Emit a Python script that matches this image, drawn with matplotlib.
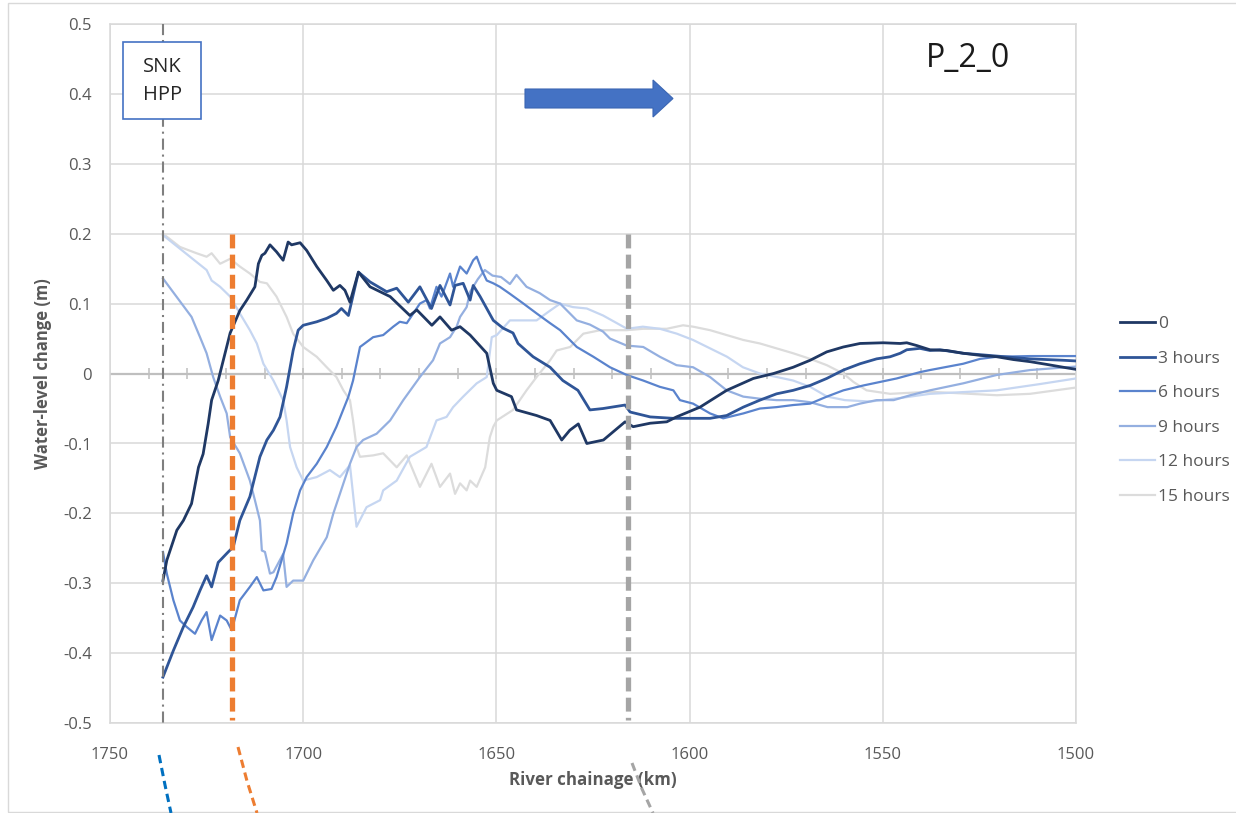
import numpy as np
import matplotlib
matplotlib.use("Agg")
import matplotlib.pyplot as plt
from matplotlib.patches import Rectangle, Polygon
from matplotlib.lines import Line2D

plt.rcParams['font.family'] = ['Open Sans', 'DejaVu Sans']
plt.rcParams['axes.unicode_minus'] = False
plt.rcParams['lines.scale_dashes'] = False

# ---------------- data ----------------
series_labels = ["0", "3 hours", "6 hours", "9 hours", "12 hours", "15 hours"]
series_colors = ["#1f3864", "#2f5597", "#5a83cd", "#94afe0", "#c6d6f1", "#dcdcdc"]

km_0 = [1736.3, 1735.3, 1732.7, 1731.0, 1728.9, 1727.1, 1725.9, 1724.6, 1723.7, 1722.0,
        1718.9, 1716.4, 1714.6, 1712.5, 1711.6, 1710.7, 1709.9, 1708.6, 1706.9, 1705.2,
        1703.9, 1703.0, 1700.8, 1699.1, 1696.5, 1693.9, 1692.2, 1690.5, 1689.2, 1687.9,
        1685.7, 1682.7, 1677.5, 1672.4, 1670.6, 1666.7, 1664.6, 1661.6, 1659.4, 1656.8,
        1652.5, 1650.8, 1649.9, 1646.1, 1644.8, 1639.6, 1636.1, 1633.1, 1631.0, 1628.8,
        1626.6, 1622.3, 1616.7, 1614.6, 1610.2, 1605.9, 1603.4, 1597.3, 1590.4, 1583.5,
        1578.3, 1573.2, 1568.8, 1564.5, 1560.2, 1555.9, 1549.9, 1545.5, 1543.8, 1541.2,
        1537.8, 1533.5, 1529.2, 1524.8, 1520.5, 1516.2, 1511.9, 1507.5, 1503.3, 1500.0]
wl_0 = [-0.296, -0.267, -0.224, -0.210, -0.186, -0.134, -0.115, -0.072, -0.038, -0.010,
        0.058, 0.090, 0.105, 0.124, 0.157, 0.169, 0.172, 0.184, 0.174, 0.162,
        0.188, 0.184, 0.187, 0.176, 0.153, 0.133, 0.119, 0.126, 0.119, 0.102,
        0.145, 0.124, 0.110, 0.083, 0.091, 0.069, 0.081, 0.062, 0.067, 0.055,
        0.029, -0.014, -0.024, -0.033, -0.052, -0.060, -0.067, -0.095, -0.081, -0.072,
        -0.100, -0.095, -0.069, -0.076, -0.071, -0.069, -0.062, -0.048, -0.024, -0.007,
        0.000, 0.009, 0.019, 0.031, 0.038, 0.043, 0.044, 0.043, 0.044, 0.040,
        0.034, 0.033, 0.029, 0.026, 0.024, 0.020, 0.017, 0.013, 0.009, 0.006]

km_3 = [1736.3, 1733.6, 1731.0, 1728.5, 1726.7, 1725.0, 1723.7, 1722.0, 1719.4, 1718.1,
        1716.4, 1713.8, 1711.2, 1709.4, 1707.7, 1706.0, 1704.3, 1702.6, 1701.3, 1700.0,
        1696.5, 1693.9, 1691.4, 1690.1, 1688.3, 1685.7, 1682.7, 1678.4, 1675.8, 1672.8,
        1669.8, 1666.8, 1664.6, 1662.0, 1660.7, 1658.6, 1656.8, 1656.0, 1654.2, 1650.8,
        1648.3, 1645.7, 1644.4, 1640.5, 1636.1, 1632.8, 1628.9, 1625.8, 1622.4, 1616.7,
        1615.4, 1610.2, 1604.3, 1600.8, 1594.7, 1590.4, 1586.1, 1581.8, 1577.5, 1573.2,
        1568.8, 1564.5, 1560.2, 1555.9, 1551.6, 1548.1, 1545.5, 1543.8, 1540.4, 1537.8,
        1535.2, 1529.2, 1524.8, 1520.5, 1511.9, 1503.3, 1500.0]
wl_3 = [-0.434, -0.396, -0.362, -0.334, -0.310, -0.289, -0.305, -0.270, -0.255, -0.248,
        -0.210, -0.176, -0.119, -0.095, -0.081, -0.062, -0.019, 0.033, 0.062, 0.069,
        0.074, 0.079, 0.086, 0.093, 0.083, 0.145, 0.131, 0.117, 0.122, 0.102,
        0.124, 0.093, 0.126, 0.098, 0.126, 0.129, 0.105, 0.126, 0.110, 0.076,
        0.065, 0.058, 0.043, 0.024, 0.009, -0.010, -0.024, -0.052, -0.050, -0.045,
        -0.055, -0.062, -0.064, -0.064, -0.064, -0.060, -0.048, -0.038, -0.029, -0.024,
        -0.017, -0.007, 0.005, 0.014, 0.021, 0.024, 0.029, 0.034, 0.036, 0.033,
        0.034, 0.029, 0.027, 0.025, 0.021, 0.019, 0.018]

km_6 = [1736.3, 1735.3, 1733.6, 1731.9, 1730.2, 1728.0, 1726.3, 1725.0, 1723.7, 1721.5,
        1719.8, 1718.5, 1716.4, 1713.8, 1712.0, 1710.3, 1708.2, 1706.9, 1705.6, 1704.3,
        1702.6, 1700.8, 1699.1, 1696.5, 1693.9, 1691.4, 1688.3, 1687.1, 1685.3, 1681.9,
        1679.3, 1676.7, 1675.0, 1673.2, 1671.5, 1669.8, 1668.1, 1667.2, 1665.5, 1664.2,
        1662.0, 1661.2, 1659.4, 1657.7, 1656.0, 1655.1, 1653.8, 1652.5, 1650.8, 1649.1,
        1646.5, 1643.0, 1639.6, 1636.1, 1633.5, 1629.2, 1624.9, 1620.6, 1616.3, 1612.0,
        1607.7, 1604.2, 1602.5, 1599.1, 1594.7, 1591.3, 1586.1, 1581.8, 1577.5, 1573.2,
        1568.8, 1564.5, 1560.2, 1555.0, 1546.4, 1540.4, 1537.8, 1529.2, 1524.8, 1520.5,
        1511.9, 1500.0]
wl_6 = [-0.255, -0.286, -0.324, -0.353, -0.362, -0.372, -0.353, -0.341, -0.381, -0.346,
        -0.353, -0.367, -0.324, -0.305, -0.291, -0.310, -0.308, -0.291, -0.267, -0.243,
        -0.200, -0.167, -0.148, -0.129, -0.105, -0.076, -0.033, -0.010, 0.038, 0.052,
        0.055, 0.067, 0.074, 0.072, 0.086, 0.100, 0.105, 0.093, 0.124, 0.110,
        0.143, 0.124, 0.153, 0.143, 0.162, 0.167, 0.148, 0.133, 0.129, 0.124,
        0.114, 0.100, 0.086, 0.072, 0.062, 0.038, 0.024, 0.009, -0.002, -0.010,
        -0.019, -0.024, -0.038, -0.043, -0.057, -0.064, -0.057, -0.050, -0.048, -0.045,
        -0.043, -0.033, -0.024, -0.017, -0.007, 0.002, 0.005, 0.014, 0.021, 0.024,
        0.025, 0.025]

km_9 = [1736.3, 1728.9, 1726.7, 1725.0, 1723.3, 1721.5, 1719.8, 1718.9, 1716.4, 1713.8,
        1712.5, 1711.2, 1710.7, 1709.9, 1708.6, 1707.7, 1705.2, 1704.3, 1702.6, 1700.0,
        1697.4, 1693.9, 1692.2, 1690.5, 1687.9, 1686.2, 1684.5, 1681.0, 1677.5, 1674.1,
        1669.8, 1666.4, 1664.6, 1662.0, 1660.3, 1659.4, 1657.7, 1656.8, 1654.8, 1653.0,
        1651.0, 1648.8, 1646.5, 1644.8, 1642.2, 1638.8, 1636.1, 1633.5, 1629.2, 1625.8,
        1622.4, 1620.6, 1616.3, 1612.0, 1607.7, 1603.4, 1599.1, 1594.7, 1590.4, 1586.1,
        1581.8, 1577.5, 1573.2, 1568.8, 1564.3, 1559.2, 1555.9, 1551.6, 1547.2, 1542.9,
        1537.8, 1529.2, 1520.5, 1511.9, 1500.0]
wl_9 = [0.136, 0.081, 0.052, 0.029, -0.005, -0.033, -0.057, -0.091, -0.114, -0.153,
        -0.181, -0.210, -0.253, -0.255, -0.286, -0.284, -0.258, -0.305, -0.296, -0.296,
        -0.267, -0.234, -0.200, -0.172, -0.129, -0.105, -0.095, -0.086, -0.067, -0.038,
        -0.005, 0.019, 0.043, 0.052, 0.067, 0.081, 0.095, 0.117, 0.135, 0.148,
        0.140, 0.138, 0.128, 0.141, 0.124, 0.115, 0.105, 0.100, 0.076, 0.070,
        0.060, 0.050, 0.040, 0.038, 0.024, 0.012, 0.009, -0.005, -0.024, -0.033,
        -0.036, -0.038, -0.038, -0.041, -0.048, -0.048, -0.043, -0.038, -0.038, -0.031,
        -0.024, -0.014, -0.002, 0.005, 0.010]

km_12 = [1736.3, 1733.6, 1729.3, 1725.0, 1723.7, 1721.5, 1718.9, 1716.4, 1713.8, 1712.0,
         1710.3, 1707.7, 1705.2, 1704.3, 1703.4, 1701.7, 1700.0, 1696.5, 1693.1, 1690.5,
         1687.9, 1686.2, 1683.6, 1680.1, 1679.3, 1675.8, 1672.4, 1668.1, 1665.5, 1662.9,
         1661.2, 1658.6, 1655.1, 1652.5, 1651.2, 1649.9, 1646.5, 1639.6, 1636.1, 1633.5,
         1630.2, 1626.6, 1622.4, 1616.2, 1612.1, 1607.7, 1603.3, 1599.1, 1594.7, 1590.3,
         1586.2, 1581.8, 1577.4, 1573.2, 1568.8, 1564.4, 1559.8, 1553.3, 1545.5, 1537.8,
         1520.5, 1509.3, 1500.0]
wl_12 = [0.198, 0.186, 0.167, 0.148, 0.133, 0.124, 0.110, 0.086, 0.062, 0.043,
         0.014, -0.010, -0.038, -0.067, -0.105, -0.134, -0.153, -0.148, -0.138, -0.148,
         -0.131, -0.219, -0.191, -0.181, -0.167, -0.153, -0.119, -0.105, -0.067, -0.062,
         -0.048, -0.033, -0.014, -0.005, 0.052, 0.055, 0.076, 0.076, 0.090, 0.100,
         0.095, 0.093, 0.083, 0.064, 0.067, 0.064, 0.057, 0.048, 0.036, 0.024,
         0.009, 0.000, -0.005, -0.010, -0.019, -0.033, -0.038, -0.040, -0.035, -0.029,
         -0.024, -0.015, -0.007]

km_15 = [1736.3, 1731.9, 1727.6, 1725.0, 1723.7, 1721.5, 1718.9, 1716.4, 1713.8, 1711.2,
         1709.4, 1706.9, 1704.3, 1702.6, 1700.0, 1696.5, 1693.9, 1691.4, 1689.6, 1687.9,
         1687.1, 1686.2, 1685.3, 1681.9, 1679.3, 1675.8, 1673.2, 1669.8, 1666.8, 1664.6,
         1662.0, 1660.7, 1659.4, 1657.7, 1656.8, 1655.1, 1652.9, 1651.7, 1650.8, 1649.9,
         1645.7, 1642.2, 1639.6, 1636.1, 1634.4, 1630.9, 1627.5, 1623.1, 1616.3, 1612.0,
         1605.9, 1601.7, 1599.1, 1594.7, 1590.4, 1586.1, 1581.8, 1577.5, 1573.2, 1568.8,
         1564.5, 1560.2, 1557.6, 1554.2, 1548.1, 1537.8, 1520.5, 1511.9, 1500.0]
wl_15 = [0.200, 0.181, 0.172, 0.167, 0.172, 0.157, 0.164, 0.153, 0.143, 0.131,
         0.129, 0.110, 0.081, 0.057, 0.038, 0.024, 0.009, -0.005, -0.024, -0.038,
         -0.067, -0.105, -0.119, -0.117, -0.114, -0.134, -0.117, -0.162, -0.129, -0.162,
         -0.143, -0.172, -0.157, -0.167, -0.153, -0.162, -0.134, -0.091, -0.076, -0.067,
         -0.052, -0.024, -0.005, 0.019, 0.033, 0.038, 0.057, 0.062, 0.062, 0.064,
         0.064, 0.069, 0.067, 0.062, 0.055, 0.048, 0.043, 0.036, 0.029, 0.021,
         0.012, 0.000, -0.012, -0.024, -0.029, -0.026, -0.031, -0.029, -0.020]

x_ticks = [1750, 1700, 1650, 1600, 1550, 1500]
y_ticks = [0.5, 0.4, 0.3, 0.2, 0.1, 0.0, -0.1, -0.2, -0.3, -0.4, -0.5]
y_tick_labels = ["0.5", "0.4", "0.3", "0.2", "0.1", "0", "-0.1", "-0.2", "-0.3", "-0.4", "-0.5"]

hpp_km = 1736.3          # SNK HPP location
orange_mark_km = 1718.4  # orange dashed marker
gray_mark_km = 1615.9    # gray dashed marker

# ---------------- figure ----------------
W, H = 1236, 813
fig = plt.figure(figsize=(W / 100, H / 100), dpi=100)


def fx(px):
    return px / W


def fy(py):
    return 1 - py / H


ax = fig.add_axes([fx(110), fy(723.3), fx(1076) - fx(110), fy(23.8) - fy(723.3)])
ax.set_xlim(1750, 1500)
ax.set_ylim(-0.5, 0.5)
ax.set_xticks(x_ticks)
ax.set_yticks(y_ticks)
ax.set_yticklabels(y_tick_labels)
ax.grid(True, color="#d9d9d9", lw=1.1)
ax.set_axisbelow(True)
for s in ax.spines.values():
    s.set_color("#d9d9d9")
    s.set_linewidth(1.1)
ax.tick_params(axis="both", length=0, labelsize=12, labelcolor="#595959")
ax.tick_params(axis="y", pad=13)
ax.tick_params(axis="x", pad=17)

# zero axis line with minor ticks
ax.axhline(0, color="#bfbfbf", lw=1.6, zorder=1.2)
ax.vlines(np.arange(1510, 1750, 10), -0.0075, 0.0075, color="#bfbfbf", lw=1.1, zorder=1.2)

all_km = [km_0, km_3, km_6, km_9, km_12, km_15]
all_wl = [wl_0, wl_3, wl_6, wl_9, wl_12, wl_15]
widths = [2.0, 2.0, 1.6, 1.6, 1.6, 1.6]
handles = []
for i, (k, w) in enumerate(zip(all_km, all_wl)):
    ln, = ax.plot(k, w, color=series_colors[i], lw=widths[i], label=series_labels[i],
                  zorder=10 - i, solid_joinstyle="round")
    handles.append(ln)

# vertical reference lines
ax.plot([hpp_km, hpp_km], [0.5, -0.5], color="#7f7f7f", lw=1.5,
        dashes=(8, 3.5, 1.5, 3.5), zorder=12, clip_on=False)
ax.plot([orange_mark_km, orange_mark_km], [0.2, -0.495], color="#ed7d31", lw=3.8,
        dashes=(10, 4.5), zorder=13)
ax.plot([gray_mark_km, gray_mark_km], [0.2, -0.495], color="#a5a5a5", lw=3.8,
        dashes=(10, 4.5), zorder=13)

# legend
leg = ax.legend(handles=handles, loc="upper left", bbox_to_anchor=(fx(1120), fy(316)),
                bbox_transform=fig.transFigure, frameon=False, fontsize=12.5,
                handlelength=2.0, handletextpad=0.2, labelspacing=1.06,
                borderpad=0, borderaxespad=0)
for t in leg.get_texts():
    t.set_color("#595959")

# axis titles
fig.text(fx(43), fy(373.5), "Water-level change (m)", rotation=90, ha="center", va="center",
         fontsize=12, fontweight="bold", color="#595959")
fig.text(fx(592.5), fy(780), "River chainage (km)", ha="center", va="center",
         fontsize=12.2, fontweight="bold", color="#595959")

# scenario title
fig.text(fx(968), fy(66.5), "P_2_0", ha="center", va="baseline", fontsize=23, color="#1a1a1a")

# SNK HPP box
fig.patches.append(Rectangle((fx(123), fy(119)), fx(201) - fx(123), fy(42) - fy(119),
                             transform=fig.transFigure, facecolor="white",
                             edgecolor="#4472c4", lw=1.2, zorder=5))
fig.text(fx(162.5), fy(71.7), "SNK", ha="center", va="baseline", fontsize=14.5,
         color="#262626", zorder=6)
fig.text(fx(162.5), fy(100), "HPP", ha="center", va="baseline", fontsize=14.5,
         color="#262626", zorder=6)

# flow direction arrow
arrow_px = [(525, 89), (653, 89), (653, 80), (673, 98.5), (653, 117), (653, 108), (525, 108)]
fig.patches.append(Polygon([(fx(a), fy(b)) for a, b in arrow_px], closed=True,
                           transform=fig.transFigure, facecolor="#4472c4",
                           edgecolor="#3b66b3", lw=0.8, zorder=5))

# dashed arcs below the chart
for pts, col in [([(159, 755), (165, 785), (171, 813)], "#0070c0"),
                 ([(238, 747), (247, 781), (257, 813)], "#ed7d31"),
                 ([(632, 763), (642, 789), (653, 813)], "#a5a5a5")]:
    fig.lines.append(Line2D([fx(p[0]) for p in pts], [fy(p[1]) for p in pts],
                            transform=fig.transFigure, color=col, lw=2.2,
                            dashes=(6, 3.5), zorder=5))

# outer frame
fig.patches.append(Rectangle((fx(8), fy(812)), fx(1240) - fx(8), fy(3) - fy(812),
                             transform=fig.transFigure, fill=False,
                             edgecolor="#d9d9d9", lw=1.0, zorder=1))

fig.savefig("out.png", dpi=100)
